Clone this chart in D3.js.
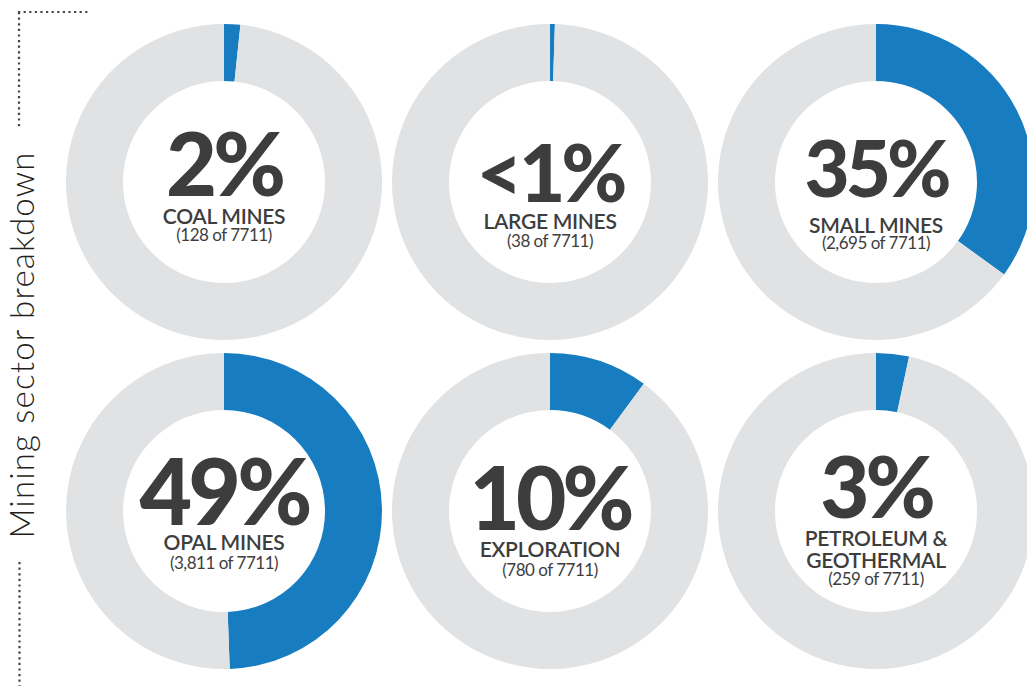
<!DOCTYPE html>
<html>
<head>
<meta charset="utf-8">
<script src="https://cdn.jsdelivr.net/npm/d3@7"></script>
<style>
  html, body { margin: 0; padding: 0; background: #fff; }
  svg { display: block; }
</style>
</head>
<body>
<svg id="chart" width="1027" height="686"></svg>
<script>
// Mining sector breakdown: share of the 7711 total per sector
const total = 7711;
const sectors = ["coal", "large", "small", "opal", "exploration", "petroleum"];
const counts = [128, 38, 2695, 3811, 780, 259];
const pctLabels = ["2%", "<1%", "35%", "49%", "10%", "3%"];
const nameLines = [
  ["COAL MINES"],
  ["LARGE MINES"],
  ["SMALL MINES"],
  ["OPAL MINES"],
  ["EXPLORATION"],
  ["PETROLEUM &", "GEOTHERMAL"]
];
const countLabels = ["(128 of 7711)", "(38 of 7711)", "(2,695 of 7711)",
                     "(3,811 of 7711)", "(780 of 7711)", "(259 of 7711)"];
const title = "Mining sector breakdown";

// typographic layout of the centre text, per donut (baselines relative to centre)
const textLayout = [
  { pctSize: 88, pctY: 14, nameY: [42], subY: 59 },
  { pctSize: 80, pctY: 20, nameY: [47], subY: 65 },
  { pctSize: 78, pctY: 15, nameY: [51], subY: 67 },
  { pctSize: 91, pctY: 14, nameY: [39], subY: 58 },
  { pctSize: 87, pctY: 19, nameY: [46], subY: 65 },
  { pctSize: 85, pctY: 7,  nameY: [35, 57], subY: 74 }
];

const blue = "#187dc0";
const grey = "#e1e2e4";
const ink = "#3d3d3e";

const svg = d3.select("#chart");
svg.append("rect").attr("width", 1027).attr("height", 686).attr("fill", "#fff");

const col = d3.scalePoint().domain([0, 1, 2]).range([224, 876]);
const row = d3.scalePoint().domain([0, 1]).range([182, 511]);

const pie = d3.pie().sort(null).value(d => d).startAngle(0).endAngle(2 * Math.PI);
const arc = d3.arc().innerRadius(101).outerRadius(158);

const donuts = svg.selectAll("g.donut")
  .data(sectors)
  .join("g")
  .attr("class", "donut")
  .attr("transform", (d, i) => `translate(${col(i % 3)},${row(Math.floor(i / 3))})`);

donuts.each(function(d, i) {
  const g = d3.select(this);
  const slices = pie([counts[i], total - counts[i]]);
  g.selectAll("path")
    .data(slices)
    .join("path")
    .attr("d", arc)
    .attr("fill", (s, j) => j === 0 ? blue : grey);

  const L = textLayout[i];
  g.append("text")
    .attr("text-anchor", "middle")
    .attr("y", L.pctY)
    .attr("fill", ink)
    .style("font-family", "Lato, sans-serif")
    .style("font-weight", 900)
    .style("font-size", L.pctSize + "px")
    .style("letter-spacing", "-4px")
    .text(pctLabels[i]);

  nameLines[i].forEach((line, k) => {
    g.append("text")
      .attr("text-anchor", "middle")
      .attr("y", L.nameY[k])
      .attr("fill", ink)
      .style("font-family", "Lato, sans-serif")
      .style("font-weight", 600)
      .style("font-size", "21px")
      .style("letter-spacing", "-0.3px")
      .text(line);
  });

  g.append("text")
    .attr("text-anchor", "middle")
    .attr("y", L.subY)
    .attr("fill", ink)
    .style("font-family", "Lato, sans-serif")
    .style("font-weight", 400)
    .style("font-size", "17px")
    .style("letter-spacing", "-0.5px")
    .text(countLabels[i]);
});

// vertical title with dotted guides
svg.append("text")
  .attr("transform", "translate(34,345) rotate(-90)")
  .attr("text-anchor", "middle")
  .attr("fill", "#231f20")
  .style("font-family", "Lato, sans-serif")
  .style("font-weight", 300)
  .style("font-size", "33px")
  .style("letter-spacing", "1.2px")
  .text(title);

const dots = svg.append("g")
  .attr("fill", "none")
  .attr("stroke", "#444")
  .attr("stroke-width", 2.2)
  .attr("stroke-dasharray", "2.2 3.4");

dots.append("path").attr("d", "M18,12H88");
dots.append("path").attr("d", "M19,12V128");
dots.append("path").attr("d", "M19.5,562V686");
</script>
</body>
</html>
